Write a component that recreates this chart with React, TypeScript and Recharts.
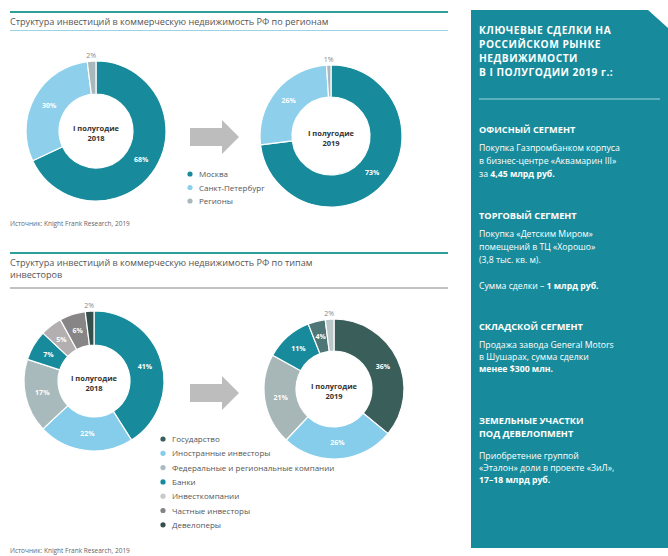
import { Cell, Pie, PieChart } from 'recharts';

// структура по регионам
const regionNames = ['Москва', 'Санкт-Петербург', 'Регионы'];
const regionColors = ['#178b9b', '#8ed0ec', '#a9b8bc'];
const regions2018 = [68, 30, 2];
const regions2019 = [73, 26, 1];

// структура по типам инвесторов
const investorNames = [
  'Государство',
  'Иностранные инвесторы',
  'Федеральные и региональные компании',
  'Банки',
  'Инвесткомпании',
  'Частные инвесторы',
  'Девелоперы',
];
const investorLegendColors = ['#3a5f5b', '#86cceb', '#a9bac4', '#178b9b', '#c9c9c9', '#858485', '#34504c'];
const investors2018 = [41, 22, 17, 7, 5, 6, 2];
const investorColors2018 = ['#178b9b', '#86cceb', '#a9babc', '#178b9b', '#b3aeb0', '#878586', '#34504c'];
const investors2019 = [36, 26, 21, 11, 4, 2];
const investorColors2019 = ['#3a5f5b', '#86cceb', '#a7b7b8', '#178b9b', '#4f7677', '#bac7c9'];

const periods = ['I полугодие', '2018', '2019'];
const source = 'Источник: Knight Frank Research, 2019';

const toRows = (values: number[], colors: string[]) =>
  values.map((value, i) => ({ value, color: colors[i] }));

const FONT = '"Open Sans", "Noto Sans", sans-serif';
const RAD = Math.PI / 180;

function pctLabel(props: any) {
  const { cx, cy, midAngle, innerRadius, outerRadius, value } = props;
  const outside = value <= 2;
  const r = outside ? outerRadius + 6 : (innerRadius + outerRadius) / 2;
  const x = cx + r * Math.cos(-midAngle * RAD);
  const y = cy + r * Math.sin(-midAngle * RAD);
  return (
    <text
      x={x}
      y={y}
      fill={outside ? '#8a8a8a' : '#ffffff'}
      fontSize={7}
      fontWeight={outside ? 400 : 700}
      fontFamily={FONT}
      textAnchor="middle"
      dominantBaseline="central"
    >
      {value}%
    </text>
  );
}

type DonutProps = { rows: { value: number; color: string }[]; cx: number; cy: number; inner: number; outer: number; name: string };

function donut({ rows, cx, cy, inner, outer, name }: DonutProps) {
  return (
    <Pie
      key={name}
      name={name}
      data={rows}
      dataKey="value"
      cx={cx}
      cy={cy}
      innerRadius={inner}
      outerRadius={outer}
      startAngle={90}
      endAngle={-270}
      stroke="#ffffff"
      strokeWidth={1.2}
      label={pctLabel}
      labelLine={false}
      isAnimationActive={false}
    >
      {rows.map((row, i) => (
        <Cell key={i} fill={row.color} />
      ))}
    </Pie>
  );
}

function CenterText({ x, y, year }: { x: number; y: number; year: string }) {
  return (
    <text x={x} y={y} textAnchor="middle" fontSize={7.5} fontWeight={700} fill="#333" fontFamily={FONT}>
      <tspan x={x} dy={-2}>{periods[0]}</tspan>
      <tspan x={x} dy={10}>{year}</tspan>
    </text>
  );
}

function Arrow({ y }: { y: number }) {
  return (
    <polygon
      points={`190,${y - 9} 222,${y - 9} 222,${y - 17} 239,${y} 222,${y + 17} 222,${y + 9} 190,${y + 9}`}
      fill="#bdbdbd"
    />
  );
}

function Legend({ x, y, names, colors, step }: { x: number; y: number; names: string[]; colors: string[]; step: number }) {
  return (
    <g>
      {names.map((n, i) => (
        <g key={n}>
          <circle cx={x} cy={y + i * step} r={2.6} fill={colors[i]} />
          <text x={x + 9} y={y + i * step + 3} fontSize={8} fill="#555" fontFamily={FONT}>
            {n}
          </text>
        </g>
      ))}
    </g>
  );
}

const panelLines: { t: string; y: number; kind: 'h' | 's' | 'b'; bold?: string }[] = [
  { t: 'КЛЮЧЕВЫЕ СДЕЛКИ НА', y: 34, kind: 'h' },
  { t: 'РОССИЙСКОМ РЫНКЕ', y: 48, kind: 'h' },
  { t: 'НЕДВИЖИМОСТИ', y: 62, kind: 'h' },
  { t: 'В I ПОЛУГОДИИ 2019 г.:', y: 76, kind: 'h' },
  { t: 'ОФИСНЫЙ СЕГМЕНТ', y: 133, kind: 's' },
  { t: 'Покупка Газпромбанком корпуса', y: 151, kind: 'b' },
  { t: 'в бизнес-центре «Аквамарин III»', y: 164, kind: 'b' },
  { t: 'за ', y: 177, kind: 'b', bold: '4,45 млрд руб.' },
  { t: 'ТОРГОВЫЙ СЕГМЕНТ', y: 219, kind: 's' },
  { t: 'Покупка «Детским Миром»', y: 237, kind: 'b' },
  { t: 'помещений в ТЦ «Хорошо»', y: 250, kind: 'b' },
  { t: '(3,8 тыс. кв. м).', y: 263, kind: 'b' },
  { t: 'Сумма сделки – ', y: 289, kind: 'b', bold: '1 млрд руб.' },
  { t: 'СКЛАДСКОЙ СЕГМЕНТ', y: 330, kind: 's' },
  { t: 'Продажа завода General Motors', y: 348, kind: 'b' },
  { t: 'в Шушарах, сумма сделки', y: 360, kind: 'b' },
  { t: '', y: 372, kind: 'b', bold: 'менее $300 млн.' },
  { t: 'ЗЕМЕЛЬНЫЕ УЧАСТКИ', y: 424, kind: 's' },
  { t: 'ПОД ДЕВЕЛОПМЕНТ', y: 437, kind: 's' },
  { t: 'Приобретение группой', y: 459, kind: 'b' },
  { t: '«Эталон» доли в проекте «ЗиЛ»,', y: 471, kind: 'b' },
  { t: '', y: 483, kind: 'b', bold: '17–18 млрд руб.' },
];

function Panel() {
  return (
    <g fontFamily={FONT} fill="#ffffff">
      <path d="M471,10 L648,10 L668,28 L668,548 L471,548 Z" fill="#178b9b" />
      <line x1={479} x2={660} y1={99} y2={99} stroke="#9fd6df" strokeWidth={1} />
      {panelLines.map((l, i) => (
        <text
          key={i}
          x={479}
          y={l.y}
          fontSize={l.kind === 'h' ? 10.2 : l.kind === 's' ? 9.2 : 8.7}
          letterSpacing={l.kind === 'h' ? 0.5 : 0}
          fontWeight={l.kind === 'b' ? 400 : 700}
        >
          {l.t}
          {l.bold ? <tspan fontWeight={700}>{l.bold}</tspan> : null}
        </text>
      ))}
    </g>
  );
}

export default function App() {
  return (
    <div style={{ position: 'absolute', left: 0, top: 0, width: 668, height: 556, background: '#fff' }}>
      <div style={{ position: 'absolute', left: 0, top: 0 }}>
        <PieChart width={668} height={556} margin={{ top: 0, right: 0, bottom: 0, left: 0 }}>
          {donut({ rows: toRows(regions2018, regionColors), cx: 96, cy: 131, inner: 37, outer: 70, name: 'r2018' })}
          {donut({ rows: toRows(regions2019, regionColors), cx: 331, cy: 136, inner: 39, outer: 71, name: 'r2019' })}
          {donut({ rows: toRows(investors2018, investorColors2018), cx: 94, cy: 381, inner: 36, outer: 70, name: 'i2018' })}
          {donut({ rows: toRows(investors2019, investorColors2019), cx: 334, cy: 389, inner: 38, outer: 70, name: 'i2019' })}
        </PieChart>
      </div>
      <svg width={668} height={556} style={{ position: 'absolute', left: 0, top: 0, pointerEvents: 'none' }}>
        {/* верхний блок */}
        <line x1={10} x2={448} y1={12} y2={12} stroke="#2e9e98" strokeWidth={2} />
        <text x={10} y={25} fontSize={9.1} fill="#555" fontFamily={FONT}>
          Структура инвестиций в коммерческую недвижимость РФ по регионам
        </text>
        <line x1={10} x2={448} y1={30.5} y2={30.5} stroke="#9ad4e4" strokeWidth={1} />
        <CenterText x={96} y={133} year={periods[1]} />
        <CenterText x={331} y={138} year={periods[2]} />
        <Arrow y={137} />
        <Legend x={190} y={174} names={regionNames} colors={regionColors} step={13.5} />
        <text x={10} y={226} fontSize={6.5} fill="#666" fontFamily={FONT}>{source}</text>

        {/* нижний блок */}
        <line x1={10} x2={448} y1={253} y2={253} stroke="#2e9e98" strokeWidth={2} />
        <text x={10} y={266} fontSize={9.1} fill="#555" fontFamily={FONT}>
          Структура инвестиций в коммерческую недвижимость РФ по типам
        </text>
        <text x={10} y={278} fontSize={9.1} fill="#555" fontFamily={FONT}>инвесторов</text>
        <line x1={10} x2={448} y1={288} y2={288} stroke="#666" strokeWidth={0.8} />
        <CenterText x={94} y={383} year={periods[1]} />
        <CenterText x={334} y={391} year={periods[2]} />
        <Arrow y={393} />
        <Legend x={163} y={439} names={investorNames} colors={investorLegendColors} step={14.3} />
        <text x={10} y={553} fontSize={6.5} fill="#666" fontFamily={FONT}>{source}</text>

        <Panel />
      </svg>
    </div>
  );
}
